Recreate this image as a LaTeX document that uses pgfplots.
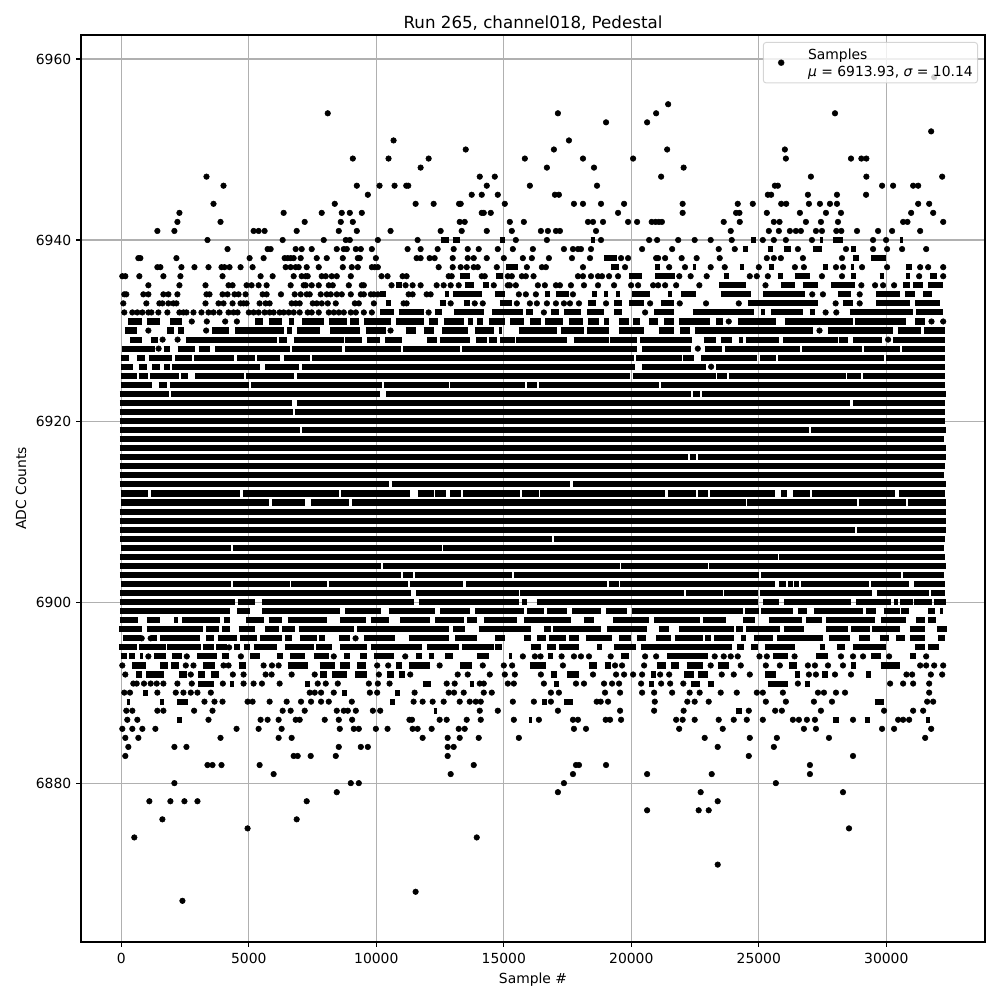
\documentclass[border=0pt]{standalone}
\usepackage{pgfplots}
\pgfplotsset{compat=1.18}
\usepackage{fontspec}
\setmainfont{DejaVu Sans}
\definecolor{gridc}{HTML}{B0B0B0}
\pgfplotsset{samplekey/.style={legend image code/.code={\path (0bp,0bp) (28bp,0bp); \draw[only marks,mark=*,mark size=2bp,fill opacity=1,mark options={draw=none,fill=black,fill opacity=1}] plot coordinates {(11bp,0bp)};}}}
\begin{document}
\begin{tikzpicture}[font=\fontsize{10.04}{12}\selectfont]
\useasboundingbox (-58.32bp,-41.76bp) rectangle (661.68bp,678.24bp);
\begin{axis}[
 scale only axis, width=650.88bp, height=653.04bp,
 xmin=-1580, xmax=33870, ymin=6862.45, ymax=6962.65,
 xtick={0,5000,10000,15000,20000,25000,30000}, ytick={6880,6900,6920,6940,6960},
 scaled x ticks=false, scaled y ticks=false,
 /pgf/number format/.cd, fixed, precision=0, 1000 sep={}, assume math mode=true, /pgfplots/.cd,
 xticklabel style={yshift=-1bp},
 xtick pos=bottom, ytick pos=left, tick align=outside,
 major tick length=3.5bp, every tick/.style={black,line width=.8bp},
 axis line style={line width=.8bp}, grid=major,
 grid style={gridc,line width=.8bp},
 title={Run 265, channel018, Pedestal}, title style={font=\fontsize{12.05}{14}\selectfont,yshift=-6bp},
 xlabel={Sample \#}, ylabel={ADC Counts},
 empty line=jump,
 legend style={at={(rel axis cs:0.9923,0.9923)},anchor=north east,fill opacity=.8,draw opacity=.8,text opacity=1,draw=black!20,rounded corners=2pt,line width=.7bp,inner xsep=1.5bp,inner ysep=2bp},
 legend cell align=left,
]
\addplot[only marks,mark=*,mark size=2bp,mark options={draw=none,fill=black},samplekey] table {
8096 6954
17122 6954
20974 6954
27987 6954
21445 6955
31877 6958
19009 6953
20620 6953
31759 6952
10677 6951
17555 6951
13507 6950
16965 6950
21406 6950
26022 6950
9079 6949
10480 6949
12053 6949
15825 6949
18105 6949
20070 6949
26061 6949
28615 6949
29021 6949
29218 6949
11738 6948
16690 6948
18537 6948
22052 6948
3341 6947
14057 6947
14646 6947
21170 6947
27043 6947
29218 6947
32191 6947
4009 6946
9236 6946
10127 6946
10716 6946
11175 6946
11253 6946
14332 6946
16022 6946
18655 6946
25629 6946
25747 6946
29834 6946
30266 6946
31052 6946
31249 6946
9668 6945
13742 6945
14135 6945
14764 6945
17004 6945
17161 6945
25354 6945
25484 6945
26926 6945
28065 6945
29205 6945
3616 6944
8371 6944
11542 6944
12249 6944
13245 6944
13310 6944
15039 6944
17751 6944
18105 6944
18812 6944
19716 6944
22013 6944
24174 6944
24764 6944
25878 6944
26074 6944
26965 6944
27397 6944
27790 6944
28065 6944
31249 6944
31681 6944
2280 6943
6367 6943
7860 6943
8646 6943
8961 6943
9432 6943
14135 6943
14214 6943
14489 6943
19480 6943
22013 6943
24109 6943
24240 6943
25314 6943
26611 6943
27633 6943
28222 6943
30973 6943
31838 6943
2201 6942
3891 6942
7192 6942
8607 6942
9079 6942
13271 6942
13467 6942
15236 6942
15786 6942
18301 6942
18498 6942
18891 6942
19873 6942
20227 6942
20800 6942
20950 6942
21080 6942
21200 6942
23624 6942
24253 6942
25589 6942
25812 6942
26847 6942
27436 6942
28104 6942
30659 6942
30829 6942
32231 6942
1415 6941
2083 6941
5188 6941
5385 6941
5620 6941
6878 6941
8529 6941
9236 6941
10559 6941
12524 6941
13349 6941
14332 6941
15314 6941
16454 6941
16729 6941
17044 6941
17201 6941
18616 6941
23899 6941
25393 6941
25786 6941
26218 6941
26454 6941
26650 6941
27240 6941
27476 6941
28039 6941
28235 6941
28851 6941
29676 6941
30227 6941
31327 6941
3380 6940
6328 6940
7939 6940
8804 6940
8961 6940
10061 6940
11620 6940
15472 6940
16690 6940
18812 6940
20699 6940
21013 6940
21838 6940
22485 6940
23113 6940
23939 6940
25157 6940
25589 6940
26061 6940
27083 6940
29480 6940
29991 6940
4166 6939
5738 6939
5856 6939
6839 6939
7074 6939
7467 6939
8450 6939
8725 6939
8843 6939
9197 6939
9393 6939
9825 6939
11227 6939
11738 6939
12406 6939
13035 6939
13585 6939
14017 6939
14764 6939
15354 6939
16140 6939
17358 6939
17712 6939
17908 6939
18026 6939
18419 6939
20423 6939
21602 6939
23428 6939
24057 6939
26532 6939
28419 6939
29480 6939
30030 6939
30619 6939
31563 6939
669 6938
747 6938
2162 6938
5031 6938
5581 6938
6406 6938
6524 6938
6642 6938
6760 6938
7035 6938
7664 6938
8057 6938
8686 6938
9275 6938
9354 6938
9983 6938
11581 6938
11738 6938
12092 6938
12288 6938
12996 6938
13585 6938
13821 6938
14332 6938
15000 6938
15747 6938
16100 6938
16769 6938
17673 6938
18380 6938
19598 6938
19873 6938
20974 6938
21052 6938
21327 6938
21974 6938
22563 6938
23467 6938
25314 6938
25589 6938
25864 6938
26729 6938
28262 6938
1415 6937
1533 6937
2358 6937
2869 6937
3420 6937
3930 6937
4048 6937
4245 6937
4677 6937
5149 6937
6446 6937
6642 6937
6839 6937
6957 6937
7271 6937
7743 6937
8686 6937
9039 6937
9275 6937
9825 6937
9943 6937
10061 6937
12446 6937
12996 6937
13310 6937
13546 6937
13821 6937
13978 6937
14725 6937
15904 6937
16493 6937
16651 6937
18105 6937
19755 6937
21485 6937
22105 6937
23113 6937
23664 6937
25000 6937
26415 6937
26768 6937
28026 6937
28301 6937
29048 6937
30030 6937
31327 6937
31641 6937
32231 6937
40 6936
158 6936
708 6936
1651 6936
2319 6936
3970 6936
5463 6936
5935 6936
6760 6936
7074 6936
7232 6936
7310 6936
7860 6936
8018 6936
8253 6936
8450 6936
9000 6936
10205 6936
10441 6936
11030 6936
11188 6936
12839 6936
12957 6936
14135 6936
14253 6936
15157 6936
15314 6936
15708 6936
15865 6936
16166 6936
17908 6936
18105 6936
18419 6936
18694 6936
18851 6936
19127 6936
19480 6936
21882 6936
22327 6936
22956 6936
24646 6936
24921 6936
25354 6936
27476 6936
28262 6936
31288 6936
32231 6936
1062 6935
2280 6935
3302 6935
4206 6935
4363 6935
4913 6935
5109 6935
5385 6935
5699 6935
6642 6935
7153 6935
7232 6935
7467 6935
7743 6935
8136 6935
8293 6935
8922 6935
9432 6935
9511 6935
10598 6935
11149 6935
11424 6935
11738 6935
12367 6935
12642 6935
12917 6935
13232 6935
14607 6935
15157 6935
15236 6935
15472 6935
16336 6935
16611 6935
17044 6935
17201 6935
17633 6935
18144 6935
18694 6935
19323 6935
19991 6935
20266 6935
20856 6935
21052 6935
21327 6935
21759 6935
22668 6935
25262 6935
29021 6935
29559 6935
29873 6935
30305 6935
118 6934
197 6934
865 6934
1062 6934
1651 6934
1848 6934
2201 6934
3341 6934
3459 6934
3970 6934
4166 6934
4441 6934
4598 6934
4874 6934
5542 6934
5699 6934
6262 6934
6800 6934
7035 6934
7271 6934
7389 6934
7821 6934
8057 6934
8214 6934
8450 6934
8646 6934
9000 6934
9393 6934
9511 6934
9786 6934
9904 6934
10061 6934
11267 6934
11424 6934
11974 6934
12131 6934
15590 6934
15865 6934
16258 6934
17712 6934
27096 6934
27515 6934
28956 6934
79 6933
983 6933
1494 6933
1612 6933
1848 6933
2044 6933
2162 6933
3302 6933
3813 6933
4009 6933
4363 6933
4677 6933
4795 6933
4913 6933
5424 6933
5660 6933
5817 6933
6681 6933
6839 6933
6996 6933
7507 6933
7664 6933
7860 6933
8096 6933
8410 6933
9157 6933
9314 6933
9904 6933
11070 6933
11188 6933
12917 6933
13860 6933
14175 6933
15511 6933
16022 6933
16297 6933
16690 6933
17044 6933
17358 6933
17594 6933
17948 6933
19009 6933
20738 6933
21900 6933
22930 6933
24214 6933
28013 6933
28956 6933
118 6932
433 6932
629 6932
826 6932
1062 6932
1180 6932
1455 6932
1808 6932
2280 6932
2437 6932
2555 6932
2830 6932
3144 6932
3420 6932
3616 6932
3852 6932
4206 6932
4402 6932
4559 6932
5000 6932
5188 6932
5385 6932
5620 6932
5817 6932
5974 6932
6210 6932
6367 6932
6564 6932
6760 6932
6996 6932
7310 6932
7467 6932
7743 6932
8136 6932
8333 6932
8529 6932
8725 6932
9000 6932
9197 6932
9511 6932
9825 6932
12053 6932
16572 6932
20541 6932
27620 6932
28039 6932
2764 6931
3354 6931
4075 6931
4533 6931
23821 6931
31772 6931
32231 6931
1062 6930
3328 6930
10559 6930
27380 6930
1620 6929
2208 6929
30070 6929
1463 6928
22608 6928
23130 6926
800 6896
1153 6896
9187 6896
4228 6895
1062 6894
2568 6894
4690 6894
8332 6894
11135 6894
15747 6894
16218 6894
16441 6894
17267 6894
17751 6894
18026 6894
18340 6894
19192 6894
20541 6894
20974 6894
23271 6894
23624 6894
23899 6894
24174 6894
25026 6894
25314 6894
26402 6894
28222 6894
28694 6894
29087 6894
30108 6894
31563 6894
40 6893
2529 6893
2830 6893
4009 6893
4206 6893
5581 6893
5909 6893
6170 6893
10035 6893
10467 6893
12485 6893
14175 6893
15000 6893
15328 6893
17319 6893
19362 6893
19637 6893
20502 6893
23113 6893
24292 6893
25275 6893
25825 6893
26925 6893
27201 6893
27712 6893
28301 6893
31327 6893
31563 6893
31877 6893
32231 6893
158 6892
2725 6892
4376 6892
4795 6892
5660 6892
5895 6892
6681 6892
7585 6892
10100 6892
11332 6892
13192 6892
13585 6892
14450 6892
15039 6892
15432 6892
16454 6892
18498 6892
19402 6892
19716 6892
20070 6892
20423 6892
21131 6892
21485 6892
23546 6892
24017 6892
24646 6892
26965 6892
27240 6892
27987 6892
28615 6892
30790 6892
31013 6892
31746 6892
32191 6892
472 6891
603 6891
891 6891
1153 6891
1389 6891
1651 6891
2201 6891
2764 6891
3983 6891
4795 6891
5188 6891
5516 6891
6210 6891
7703 6891
8018 6891
8489 6891
9708 6891
10061 6891
10520 6891
12760 6891
13074 6891
14057 6891
14214 6891
15157 6891
15393 6891
16572 6891
17830 6891
18144 6891
18930 6891
19245 6891
19520 6891
20384 6891
21170 6891
21524 6891
22039 6891
26532 6891
30148 6891
30659 6891
31052 6891
31681 6891
118 6890
341 6890
1415 6890
2136 6890
2437 6890
2725 6890
2987 6890
3511 6890
7389 6890
7585 6890
7834 6890
8332 6890
9747 6890
10035 6890
11502 6890
12839 6890
13048 6890
13428 6890
14214 6890
14528 6890
16847 6890
17161 6890
18969 6890
19559 6890
20423 6890
20895 6890
21602 6890
22288 6890
22681 6890
23506 6890
24135 6890
24921 6890
25157 6890
25943 6890
27319 6890
27554 6890
28026 6890
28380 6890
31681 6890
3262 6889
3655 6889
3970 6889
4952 6889
5149 6889
5817 6889
6485 6889
7048 6889
7441 6889
7834 6889
8136 6889
9039 6889
11463 6889
11817 6889
12210 6889
12642 6889
13271 6889
13664 6889
13900 6889
14096 6889
15354 6889
16179 6889
16847 6889
18642 6889
18799 6889
19087 6889
20921 6889
22196 6889
22485 6889
23035 6889
25275 6889
26061 6889
27161 6889
27869 6889
31602 6889
31838 6889
197 6888
433 6888
1415 6888
1651 6888
2856 6888
3577 6888
6328 6888
6642 6888
7192 6888
8450 6888
8725 6888
8882 6888
9197 6888
9865 6888
10153 6888
14057 6888
14764 6888
17122 6888
19559 6888
20895 6888
22052 6888
24607 6888
25642 6888
25904 6888
27436 6888
29912 6888
31052 6888
31445 6888
236 6887
629 6887
3420 6887
5463 6887
5738 6887
6170 6887
6839 6887
6996 6887
7978 6887
8529 6887
9053 6887
11300 6887
11400 6887
12485 6887
12760 6887
13546 6887
14096 6887
15393 6887
16376 6887
17712 6887
17908 6887
18995 6887
19166 6887
19598 6887
21759 6887
22013 6887
22485 6887
23428 6887
24017 6887
24528 6887
25157 6887
26336 6887
26572 6887
26886 6887
27201 6887
28694 6887
30463 6887
30659 6887
30895 6887
40 6886
433 6886
826 6886
1337 6886
4520 6886
5385 6886
6288 6886
8568 6886
9118 6886
9314 6886
9983 6886
10441 6886
11424 6886
11620 6886
12171 6886
13232 6886
13467 6886
17751 6886
18223 6886
21877 6886
23585 6886
26768 6886
27240 6886
29833 6886
30305 6886
31759 6886
158 6885
669 6885
3891 6885
6170 6885
6681 6885
11817 6885
12799 6885
13271 6885
14017 6885
15590 6885
22878 6885
24646 6885
25707 6885
27751 6885
31524 6885
276 6884
2083 6884
2555 6884
8529 6884
9393 6884
9668 6884
12799 6884
13035 6884
23388 6884
25589 6884
158 6883
6760 6883
6917 6883
7428 6883
8411 6883
12799 6883
24607 6883
28694 6883
3380 6882
3577 6882
3930 6882
5424 6882
13821 6882
17830 6882
17948 6882
19009 6882
27004 6882
5974 6881
12917 6881
17712 6881
20620 6881
23153 6881
27004 6881
2083 6880
9000 6880
9314 6880
17358 6880
25668 6880
8450 6879
17122 6879
22720 6879
28301 6879
1101 6878
1926 6878
2476 6878
2987 6878
7271 6878
23388 6878
20620 6877
22642 6877
23035 6877
1612 6876
6878 6876
4952 6875
28537 6875
511 6874
13939 6874
23388 6871
11542 6868
2398 6867
};
\addlegendentry{\begin{tabular}{@{}l@{}}Samples\\{\itshape μ} = 6913.93, {\itshape σ} = 10.14\rule[-14bp]{0pt}{0pt}\end{tabular}}
\addplot[forget plot,line width=4.4bp,black] table {
-60 6922
6691 6922

6887 6922
28582 6922

28686 6922
32300 6922

-60 6921
6730 6921

6796 6921
32300 6921

-60 6920
32320 6920

-60 6919
6991 6919

7083 6919
26985 6919

27050 6919
32340 6919

-60 6918
32260 6918

-60 6917
32340 6917

-60 6916
22220 6916

22282 6916
22544 6916

22609 6916
32340 6916

-60 6915
32300 6915

-60 6914
32260 6914

-60 6913
10500 6913

10600 6913
17610 6913

17720 6913
32340 6913

-30 6912
1032 6912

1163 6912
4665 6912

4770 6912
8521 6912

8612 6912
11333 6912

11621 6912
12248 6912

12313 6912
12732 6912

12902 6912
13320 6912

13398 6912
15620 6912

15712 6912
16365 6912

16431 6912
21332 6912

21423 6912
22544 6912

22609 6912
23001 6912

23092 6912
25615 6912

25876 6912
26098 6912

26360 6912
27013 6912

27079 6912
30346 6912

30516 6912
32300 6912

-30 6911
5776 6911

5907 6911
7214 6911

7436 6911
8913 6911

9044 6911
24478 6911

24530 6911
28856 6911

28922 6911
30778 6911

30843 6911
32340 6911

-60 6910
32340 6910

-60 6909
32340 6909

-60 6908
28791 6908

28843 6908
32340 6908

-40 6907
16880 6907

16950 6907
32300 6907

-20 6906
4320 6906

4370 6906
12580 6906

12625 6906
32250 6906

-60 6905
25740 6905

25810 6905
32300 6905

-60 6904
10180 6904

10270 6904
19540 6904

19590 6904
22990 6904

23060 6904
32340 6904

-60 6903
10960 6903

11046 6903
11438 6903

11503 6903
15320 6903

15390 6903
25020 6903

25092 6903
30582 6903

30645 6903
32280 6903

-30 6902
4313 6902

4378 6902
6600 6902

6652 6902
8064 6902

8130 6902
11229 6902

11307 6902
13398 6902

13529 6902
19044 6902

19109 6902
19502 6902

19567 6902
25654 6902

25811 6902
26072 6902

26130 6902
26340 6902

26399 6902
26595 6902

26660 6902
29340 6902

29405 6902
30908 6902

31104 6902
32307 6902

-40 6901
11359 6901

11568 6901
15581 6901

15646 6901
22070 6901

22151 6901
23589 6901

23654 6901
24961 6901

25027 6901
29445 6901

29627 6901
31693 6901

31758 6901
32307 6901

-60 6900
4470 6900

4560 6900
5260 6900

5500 6900
11490 6900

11660 6900
15581 6900

15712 6900
15908 6900

16300 6900
24961 6900

25157 6900
25811 6900

26007 6900
28621 6900

28817 6900
30190 6900

30320 6900
30450 6900

30542 6900
31039 6900

31104 6900
31784 6900

31850 6900
32340 6900

-60 6923
1855 6923

1947 6923
10155 6923

10390 6923
22347 6923

22413 6923
22700 6923

22780 6923
32340 6923

-20 6924
1202 6924

1463 6924
1790 6924

1895 6924
4992 6924

5097 6924
10220 6924

10286 6924
12836 6924

12875 6924
15842 6924

15908 6924
16300 6924

16391 6924
21070 6924

21162 6924
32300 6924

-20 6925
614 6925

679 6925
1045 6925

1110 6925
2247 6925

2339 6925
2600 6925

2901 6925
4796 6925

4888 6925
6757 6925

6887 6925
19959 6925

20064 6925
23302 6925

23354 6925
23746 6925

23824 6925
28425 6925

28464 6925
29013 6925

29078 6925
32300 6925

-20 6926
457 6926

679 6926
1006 6926

1202 6926
1529 6926

1686 6926
1895 6926

1986 6926
5450 6926

5646 6926
6953 6926

7083 6926
20155 6926

20417 6926
22936 6926

23328 6926
32300 6926

-14 6927
287 6927

614 6927
940 6927

1071 6927
1986 6927

2117 6927
2770 6927

2862 6927
4404 6927

4535 6927
5253 6927

5319 6927
6234 6927

6365 6927
7410 6927

7475 6927
20090 6927

20195 6927
21985 6927

22021 6927
22439 6927

22740 6927
24922 6927

25053 6927
25680 6927

25759 6927
29928 6927

29993 6927
32300 6927

25 6928
1332 6928

1659 6928
1921 6928

2208 6928
2901 6928

3032 6928
3489 6928

3685 6928
6626 6928

6691 6928
8652 6928

8782 6928
10977 6928

11045 6928
13294 6928

13359 6928
20221 6928

20417 6928
22347 6928

22870 6928
23563 6928

23667 6928
26621 6928

26700 6928
29052 6928

29118 6928
30542 6928

30620 6928
32300 6928

352 6929
810 6929

1163 6929
1424 6929

2548 6929
6103 6929

6168 6929
6495 6929

6757 6929
8717 6929

8782 6929
9436 6929

9632 6929
10155 6929

10351 6929
11006 6929

11987 6929
12379 6929

12483 6929
13686 6929

13921 6929
14339 6929

14405 6929
14731 6929

14862 6929
15450 6929

15489 6929
17476 6929

17737 6929
19109 6929

19175 6929
20221 6929

20352 6929
22387 6929

22831 6929
23328 6929

23524 6929
23955 6929

24216 6929
24399 6929

24478 6929
25811 6929

25942 6929
28098 6929

28137 6929
28490 6929

28686 6929
29837 6929

30255 6929
32300 6929

145 6930
603 6930

1808 6930
2070 6930

2240 6930
2463 6930

3550 6930
4206 6930

4468 6930
6367 6930

6498 6930
6694 6930

6891 6930
7808 6930

8201 6930
9380 6930

9577 6930
10363 6930

11149 6930
11542 6930

11856 6930
12249 6930

12563 6930
13585 6930

13860 6930
14607 6930

14803 6930
14935 6930

15590 6930
17096 6930

17227 6930
18144 6930

18275 6930
19127 6930

19520 6930
20502 6930

21092 6930
21681 6930

21890 6930
22282 6930

22478 6930
27118 6930

27732 6930
30255 6930

30451 6930
31366 6930

31470 6930
32300 6930

276 6931
800 6931

996 6931
1520 6931

1913 6931
2372 6931

5253 6931
5555 6931

5778 6931
6302 6931

6564 6931
6760 6931

7088 6931
7939 6931

8136 6931
8856 6931

8987 6931
9314 6931

9511 6931
10559 6931

10756 6931
11856 6931

12053 6931
12406 6931

12642 6931
13428 6931

13585 6931
13781 6931

13952 6931
14175 6931

14411 6931
15039 6931

15236 6931
15786 6931

16022 6931
16454 6931

16611 6931
17319 6931

17555 6931
18105 6931

18301 6931
18733 6931

18930 6931
19127 6931

19520 6931
19912 6931

20070 6931
20345 6931

20699 6931
21052 6931

21288 6931
21681 6931

21882 6931
23087 6931

23323 6931
23585 6931

24174 6931
25681 6931

26008 6931
28694 6931

28759 6931
30790 6931

31117 6931
31510 6931

10153 6932
10677 6932

10874 6932
11856 6932

12288 6932
12563 6932

13035 6932
14214 6932

14528 6932
15747 6932

15865 6932
16140 6932

16847 6932
17161 6932

17358 6932
18013 6932

18275 6932
18930 6932

19323 6932
19638 6932

20895 6932
21681 6932

22406 6932
24829 6932

25092 6932
25223 6932

25484 6932
26729 6932

26991 6932
27188 6932

28563 6932
31052 6932

31183 6932
32231 6932

10363 6933
10559 6933

12485 6933
12721 6933

13428 6933
13664 6933

14843 6933
15314 6933

18301 6933
18616 6933

19323 6933
19638 6933

19912 6933
20502 6933

21170 6933
21681 6933

24567 6933
27319 6933

28301 6933
28694 6933

29611 6933
30921 6933

31117 6933
32100 6933

10153 6934
10363 6934

12681 6934
12839 6934

12996 6934
14135 6934

14646 6934
15039 6934

16611 6934
16808 6934

17044 6934
17555 6934

18458 6934
18655 6934

18930 6934
19087 6934

19402 6934
19559 6934

20030 6934
20738 6934

21445 6934
21602 6934

21947 6934
22537 6934

23506 6934
24699 6934

25157 6934
26794 6934

28104 6934
28629 6934

29611 6934
30528 6934

30725 6934
31118 6934

31445 6934
31774 6934

10756 6935
10991 6935

13467 6935
13821 6935

14175 6935
14411 6935

23454 6935
24502 6935

25878 6935
26402 6935

26729 6935
27319 6935

27842 6935
28760 6935

30659 6935
30921 6935

31052 6935
31445 6935

31641 6935
32231 6935

13271 6936
13664 6936

14686 6936
14961 6936

19912 6936
20423 6936

20934 6936
21720 6936

23624 6936
23821 6936

25747 6936
25943 6936

26402 6936
26991 6936

28629 6936
28825 6936

29742 6936
29899 6936

30790 6936
30947 6936

31707 6936
31969 6936

15079 6937
15550 6937

19205 6937
19520 6937

20934 6937
21131 6937

22406 6937
22537 6937

24253 6937
24436 6937

25393 6937
25589 6937

27515 6937
27712 6937

28629 6937
28733 6937

30790 6937
31013 6937

18930 6938
19441 6938

28694 6938
28930 6938

29414 6938
30004 6938

24371 6939
24568 6939

25354 6939
25550 6939

25982 6939
26270 6939

27122 6939
27476 6939

28615 6939
28825 6939

12524 6940
12839 6940

12996 6940
13271 6940

14843 6940
15039 6940

18406 6940
18576 6940

24699 6940
24895 6940

27384 6940
27515 6940

27908 6940
28301 6940

30528 6940
30659 6940

-40 6899
4271 6899

4533 6899
5057 6899

5516 6899
8594 6899

8790 6899
10166 6899

10480 6899
12315 6899

12500 6899
13690 6899

13886 6899
15786 6899

15917 6899
16572 6899

16703 6899
17489 6899

17686 6899
18799 6899

19000 6899
19847 6899

20044 6899
24371 6899

24476 6899
25026 6899

25092 6899
26336 6899

26532 6899
26899 6899

27148 6899
29087 6899

29200 6899
29600 6899

29899 6899
30528 6899

30594 6899
30895 6899

31641 6899
31903 6899

32100 6899
32230 6899

-52 6898
669 6898

996 6898
1520 6898

2083 6898
2240 6898

2372 6898
3878 6898

4009 6898
4245 6898

4900 6898
5581 6898

5778 6898
6302 6898

6524 6898
8070 6898

8594 6898
9577 6898

9773 6898
10480 6898

10939 6898
12092 6898

12315 6898
13428 6898

13559 6898
13952 6898

14214 6898
15524 6898

15786 6898
17620 6898

18144 6898
18537 6898

19284 6898
20699 6898

20895 6898
22694 6898

22799 6898
23716 6898

24371 6898
24869 6898

25393 6898
26703 6898

26860 6898
27489 6898

27646 6898
29545 6898

29807 6898
30790 6898

31183 6898
31510 6898

31641 6898
31943 6898

-78 6897
800 6897

996 6897
3223 6897

3328 6897
3813 6897

3943 6897
4271 6897

4598 6897
5253 6897

5646 6897
6170 6897

6302 6897
6826 6897

6957 6897
9118 6897

9249 6897
12839 6897

13009 6897
13494 6897

14017 6897
16048 6897

16572 6897
16834 6897

16939 6897
18799 6897

19061 6897
20633 6897

21092 6897
21485 6897

21880 6897
24043 6897

24109 6897
24371 6897

24502 6897
25812 6897

25969 6897
26768 6897

27646 6897
28498 6897

28629 6897
29349 6897

29420 6897
30530 6897

30921 6897
31510 6897

31980 6897
32362 6897

79 6896
760 6896

1153 6896
1389 6896

1520 6896
3092 6896

3328 6896
3616 6896

3773 6896
4533 6896

4664 6896
5319 6896

5450 6896
6302 6896

6432 6896
6695 6896

7000 6896
7677 6896

7743 6896
8005 6896

8528 6896
8987 6896

9511 6896
10743 6896

11267 6896
12839 6896

13100 6896
13952 6896

14672 6896
15066 6896

15786 6896
16048 6896

16310 6896
16638 6896

16769 6896
17423 6896

17555 6896
17948 6896

18210 6896
19257 6896

19520 6896
19978 6896

20214 6896
20568 6896

20960 6896
21550 6896

21700 6896
22799 6896

22904 6896
23127 6896

23258 6896
24043 6896

24305 6896
24502 6896

24830 6896
25550 6896

25707 6896
27515 6896

27751 6896
28589 6896

28930 6896
29349 6896

29742 6896
30108 6896

30371 6896
30725 6896

30921 6896
31510 6896

32035 6896
32296 6896

-78 6895
603 6895

708 6895
1756 6895

1808 6895
3118 6895

3223 6895
3616 6895

3721 6895
4140 6895

4428 6895
4664 6895

4795 6895
5057 6895

5188 6895
6105 6895

6432 6895
7546 6895

7651 6895
8266 6895

8568 6895
9642 6895

9773 6895
11791 6895

11987 6895
13232 6895

13363 6895
14607 6895

14672 6895
14934 6895

16048 6895
16441 6895

16703 6895
17031 6895

17161 6895
17948 6895

18668 6895
18865 6895

19323 6895
20175 6895

20371 6895
23952 6895

24135 6895
24411 6895

24699 6895
24961 6895

25223 6895
26402 6895

27384 6895
27607 6895

28065 6895
28366 6895

28694 6895
30004 6895

31118 6895
31510 6895

31641 6895
32073 6895

-26 6894
210 6894

315 6894
538 6894

734 6894
865 6894

1284 6894
1756 6894

1979 6894
2372 6894

2987 6894
3747 6894

3930 6894
4206 6894

5057 6894
5450 6894

6105 6894
6341 6894

6629 6894
7219 6894

7546 6894
8136 6894

8725 6894
8961 6894

9380 6894
9616 6894

9904 6894
10677 6894

11568 6894
11791 6894

12053 6894
12249 6894

12707 6894
13009 6894

13952 6894
14411 6894

15196 6894
15328 6894

16729 6894
16939 6894

19611 6894
19913 6894

21419 6894
22996 6894

25550 6894
26140 6894

27253 6894
27712 6894

29401 6894
29807 6894

30947 6894
31157 6894

433 6893
957 6893

1520 6893
1848 6893

1939 6893
2267 6893

3223 6893
3681 6893

4598 6893
4887 6893

6524 6893
7310 6893

7782 6893
8398 6893

8568 6893
8987 6893

9249 6893
9577 6893

10782 6893
11005 6893

11267 6893
12118 6893

13297 6893
13755 6893

16022 6893
16664 6893

18340 6893
18668 6893

18956 6893
19192 6893

21000 6893
21354 6893

21550 6893
21880 6893

22170 6893
22799 6893

23388 6893
23821 6893

26179 6893
26493 6893

28628 6893
28825 6893

29781 6893
30528 6893

577 6892
800 6892

970 6892
1677 6892

2280 6892
2594 6892

3026 6892
3288 6892

3511 6892
3813 6892

7808 6892
8070 6892

8266 6892
8856 6892

9183 6892
9642 6892

10415 6892
10677 6892

10874 6892
11135 6892

16834 6892
17096 6892

17489 6892
17948 6892

20764 6892
20960 6892

22079 6892
22472 6892

22603 6892
22996 6892

25262 6892
25681 6892

26402 6892
26598 6892

27489 6892
27712 6892

29218 6892
29414 6892

3026 6891
3616 6891

4245 6891
4402 6891

7218 6891
7415 6891

11817 6891
12157 6891

13664 6891
13821 6891

16965 6891
17161 6891

20699 6891
20895 6891

22340 6891
22694 6891

22996 6891
23258 6891

25353 6891
26140 6891

26795 6891
26991 6891

865 6890
1062 6890

8659 6890
8856 6890

10743 6890
10913 6890

2175 6889
2634 6889

1520 6889
1690 6889

210 6889
341 6889

10546 6889
10743 6889

16507 6889
16677 6889

17358 6889
17725 6889

29545 6889
29899 6889

12249 6888
12380 6888

24096 6888
24332 6888

2201 6887
2372 6887

15983 6887
16114 6887

27908 6887
28143 6887

29152 6887
29349 6887

31550 6887
31707 6887
};
\end{axis}
\end{tikzpicture}
\end{document}
